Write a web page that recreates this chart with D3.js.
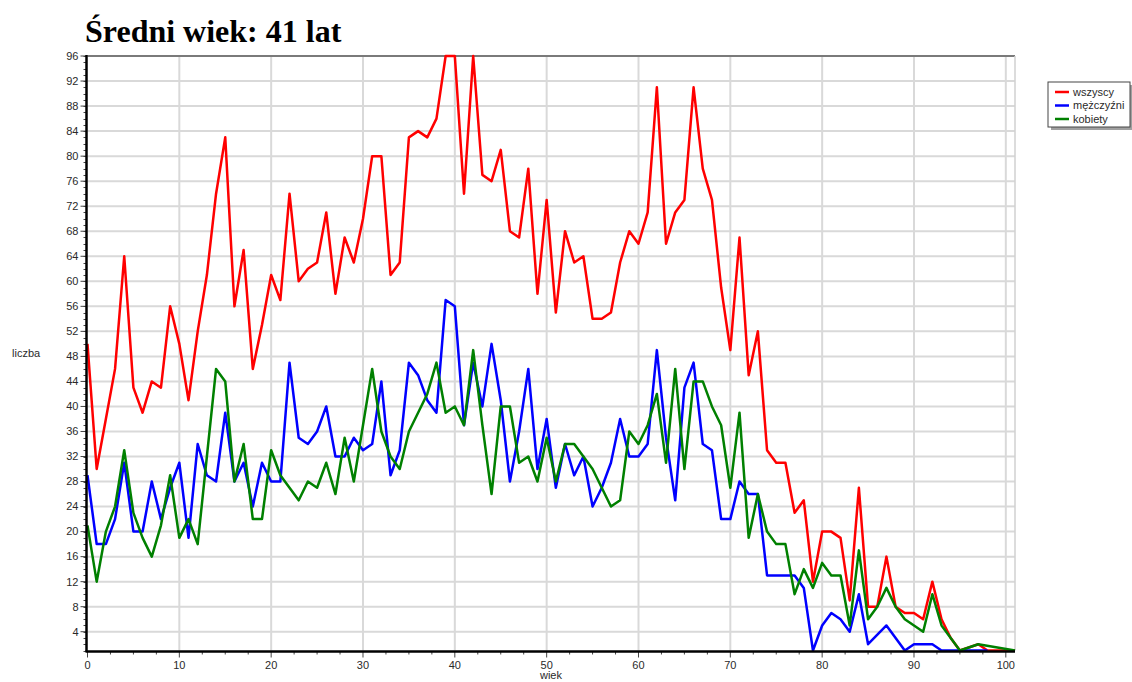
<!DOCTYPE html>
<html>
<head>
<meta charset="utf-8">
<script src="https://cdn.jsdelivr.net/npm/d3@7"></script>
<style>
body { margin: 0; background: #fff; }
text { font-family: "Liberation Sans", Arial, sans-serif; }
.title { font-family: "Liberation Serif", "Times New Roman", serif; font-weight: bold; font-size: 32px; }
.tick-label { font-size: 11px; fill: #2a2a2a; }
.grid { stroke: #d9d9d9; stroke-width: 2; }
.series { fill: none; stroke-width: 2.5; stroke-linejoin: round; }
</style>
</head>
<body>
<div id="chart"></div>
<script>
var width = 1132, height = 682;

// ages 0..101, null = no point for that age
var ages = d3.range(0, 102);

var wszyscy = [50, 30, 38, 46, 64, 43, 39, 44, 43, 56,
  50, 41, 52, 61, 74, 83, 56, 65, 46, 53,
  61, 57, 74, 60, 62, 63, 71, 58, 67, 63,
  70, 80, 80, 61, 63, 83, 84, 83, 86, 96,
  96, 74, 96, 77, 76, 81, 68, 67, 78, 58,
  73, 55, 68, 63, 64, 54, 54, 55, 63, 68,
  66, 71, 91, 66, 71, 73, 91, 78, 73, 59,
  49, 67, 45, 52, 33, 31, 31, 23, 25, 12,
  20, 20, 19, 9, 27, 8, 8, 16, 8, 7,
  7, 6, 12, 6, 3, 1, null, 2, 1, null,
  null, 1];

var mezczyzni = [29, 18, 18, 22, 31, 20, 20, 28, 22, 27,
  31, 19, 34, 29, 28, 39, 28, 31, 24, 31,
  28, 28, 47, 35, 34, 36, 40, 32, 32, 35,
  33, 34, 44, 29, 33, 47, 45, 41, 39, 57,
  56, 37, 47, 40, 50, 41, 28, 36, 46, 30,
  38, 27, 34, 29, 32, 24, 27, 31, 38, 32,
  32, 34, 49, 35, 25, 43, 47, 34, 33, 22,
  22, 28, 26, 26, 13, 13, 13, 13, 11, 1,
  5, 7, 6, 4, 10, 2, null, 5, null, 1,
  2, 2, 2, 1, null, null, null, null, 1, null,
  null, null];

var kobiety = [21, 12, 20, 24, 33, 23, 19, 16, 21, 29,
  19, 22, 18, 32, 46, 44, 28, 34, 22, 22,
  33, 29, 27, 25, 28, 27, 31, 26, 35, 28,
  37, 46, 36, 32, 30, 36, 39, 42, 47, 39,
  40, 37, 49, 37, 26, 40, 40, 31, 32, 28,
  35, 28, 34, 34, 32, 30, 27, 24, 25, 36,
  34, 37, 42, 31, 46, 30, 44, 44, 40, 37,
  27, 39, 19, 26, 20, 18, 18, 10, 14, 11,
  15, 13, 13, 5, 17, 6, 8, 11, 8, 6,
  5, 4, 10, 5, 3, 1, null, 2, null, null,
  null, 1];

var seriesNames = ["wszyscy", "mężczyźni", "kobiety"];
var seriesColors = ["#ff0000", "#0000ff", "#008000"];
var yTicks = d3.range(4, 97, 4);
var xTicks = d3.range(0, 101, 10);

var svg = d3.select("#chart").append("svg")
  .attr("width", width)
  .attr("height", height);

var x = d3.scaleLinear().domain([0, 101]).range([87.5, 1015]);
var y = d3.scaleLinear().domain([1, 96]).range([650.5, 56]);

// grid
svg.append("g").selectAll("line")
  .data(yTicks.filter(function(d) { return d < 96; }))
  .enter().append("line")
    .attr("class", "grid")
    .attr("x1", x(0)).attr("x2", x(101))
    .attr("y1", function(d) { return y(d); })
    .attr("y2", function(d) { return y(d); });

svg.append("g").selectAll("line")
  .data(xTicks.filter(function(d) { return d > 0; }))
  .enter().append("line")
    .attr("class", "grid")
    .attr("y1", y(96)).attr("y2", y(1))
    .attr("x1", function(d) { return x(d); })
    .attr("x2", function(d) { return x(d); });

// frame
svg.append("line")
  .attr("x1", x(0)).attr("x2", x(101))
  .attr("y1", y(96)).attr("y2", y(96))
  .attr("stroke", "#7a7a7a").attr("stroke-width", 2);
svg.append("line")
  .attr("x1", x(101)).attr("x2", x(101))
  .attr("y1", y(96)).attr("y2", y(1))
  .attr("stroke", "#d0d0d0").attr("stroke-width", 1.5);

// lines
var line = d3.line()
  .x(function(d) { return x(d.age); })
  .y(function(d) { return y(d.value); });

[wszyscy, mezczyzni, kobiety].forEach(function(values, i) {
  var pts = ages.map(function(a) { return { age: a, value: values[a] }; })
    .filter(function(d) { return d.value != null; });
  svg.append("path")
    .datum(pts)
    .attr("class", "series")
    .attr("stroke", seriesColors[i])
    .attr("d", line);
});

// y axis
var yAxis = svg.append("g")
  .attr("transform", "translate(" + (x(0) - 1) + ",0)");
yAxis.selectAll(".minor")
  .data(d3.range(1, 97))
  .enter().append("line")
    .attr("x1", -3).attr("x2", 0)
    .attr("y1", function(d) { return Math.round(y(d)) + 0.5; })
    .attr("y2", function(d) { return Math.round(y(d)) + 0.5; })
    .attr("stroke", "#444");
yAxis.selectAll(".major")
  .data(yTicks)
  .enter().append("line")
    .attr("x1", -6).attr("x2", 0)
    .attr("y1", function(d) { return y(d); })
    .attr("y2", function(d) { return y(d); })
    .attr("stroke", "#444");
yAxis.selectAll("text")
  .data(yTicks)
  .enter().append("text")
    .attr("class", "tick-label")
    .attr("x", -8)
    .attr("y", function(d) { return y(d); })
    .attr("dy", "0.35em")
    .attr("text-anchor", "end")
    .text(function(d) { return d; });
yAxis.append("line")
  .attr("y1", y(96) - 1).attr("y2", y(1) + 1)
  .attr("stroke", "#000").attr("stroke-width", 2.5);

// x axis
var xAxis = svg.append("g")
  .attr("transform", "translate(0," + (y(1) + 1) + ")");
xAxis.selectAll(".minor")
  .data(d3.range(0, 101, 2.5))
  .enter().append("line")
    .attr("x1", function(d) { return x(d); })
    .attr("x2", function(d) { return x(d); })
    .attr("y1", 0)
    .attr("y2", function(d) { return d % 10 === 0 ? 6 : 3; })
    .attr("stroke", "#444");
xAxis.selectAll("text")
  .data(xTicks)
  .enter().append("text")
    .attr("class", "tick-label")
    .attr("x", function(d) { return x(d); })
    .attr("y", 17)
    .attr("text-anchor", "middle")
    .text(function(d) { return d; });
xAxis.append("line")
  .attr("x1", x(0) - 2).attr("x2", x(101))
  .attr("stroke", "#000").attr("stroke-width", 2.5);

// axis titles
svg.append("text")
  .attr("class", "tick-label")
  .attr("x", 12).attr("y", 357)
  .text("liczba");
svg.append("text")
  .attr("class", "tick-label")
  .attr("x", 551).attr("y", 679)
  .attr("text-anchor", "middle")
  .text("wiek");

// title
svg.append("text")
  .attr("class", "title")
  .attr("x", 85).attr("y", 42)
  .text("Średni wiek: 41 lat");

// legend
var legend = svg.append("g")
  .attr("transform", "translate(1048,82)");
legend.append("rect")
  .attr("x", 3).attr("y", 3)
  .attr("width", 82).attr("height", 45)
  .attr("fill", "#a0a0a0");
legend.append("rect")
  .attr("width", 82).attr("height", 45)
  .attr("fill", "#fff")
  .attr("stroke", "#444");
var item = legend.selectAll(".item")
  .data(seriesNames)
  .enter().append("g")
    .attr("transform", function(d, i) { return "translate(0," + (10 + i * 13.5) + ")"; });
item.append("line")
  .attr("x1", 7).attr("x2", 21)
  .attr("stroke", function(d, i) { return seriesColors[i]; })
  .attr("stroke-width", 2.5);
item.append("text")
  .attr("class", "tick-label")
  .attr("x", 25)
  .attr("dy", "0.35em")
  .text(function(d) { return d; });
</script>
</body>
</html>
